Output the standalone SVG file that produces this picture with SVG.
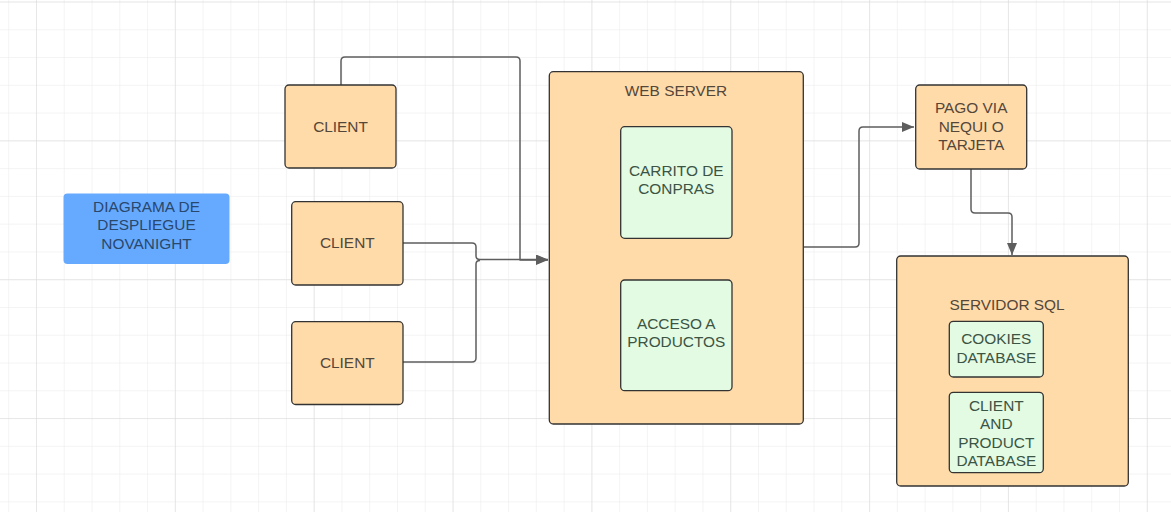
<svg xmlns="http://www.w3.org/2000/svg" width="1171" height="512" viewBox="0 0 1171 512">
<defs>
<pattern id="minor" patternUnits="userSpaceOnUse" x="8.2" y="1.5" width="27.77" height="27.77">
<path d="M0 0V27.77M0 0H27.77" fill="none" stroke="#e9e9e9" stroke-width="1"/>
</pattern>
<pattern id="major" patternUnits="userSpaceOnUse" x="36" y="1.5" width="138.85" height="138.85">
<path d="M0 0V138.85M0 0H138.85" fill="none" stroke="#d9d9d9" stroke-width="1"/>
</pattern>
<marker id="arr" viewBox="0 0 12 10" refX="12" refY="5" markerWidth="12" markerHeight="10" markerUnits="userSpaceOnUse" orient="auto">
<path d="M0 0L12 5L0 10Z" fill="#5e5e5e"/>
</marker>
</defs>
<style>
text{font-family:"Liberation Sans",Arial,sans-serif;font-size:15.4px;text-anchor:middle;dominant-baseline:central}
.o{fill:#ffdba9;stroke:#333;stroke-width:1.3}
.g{fill:#e3fae3;stroke:#333;stroke-width:1.3}
.to{fill:#54473a}
.tg{fill:#3b5444}
.tb{fill:#2a476c}
.c{fill:none;stroke:#5e5e5e;stroke-width:1.5;stroke-linejoin:round}
</style>
<rect width="1171" height="512" fill="#fff"/>
<rect width="1171" height="512" fill="url(#minor)"/>
<rect width="1171" height="512" fill="url(#major)"/>

<g id="connectors">
<path class="c" d="M341 85V61Q341 57 345 57H516Q520 57 520 61V260H548" marker-end="url(#arr)"/>
<path class="c" d="M403 243H472Q476 243 476 247V256Q476 259.5 480 259.5H548" marker-end="url(#arr)"/>
<path class="c" d="M403 362H472Q476 362 476 358V264Q476 260.5 480 260.5"/>
<path class="c" d="M804 247H855Q859 247 859 243V131Q859 127 863 127H914" marker-end="url(#arr)"/>
<path class="c" d="M971 169V209Q971 213 975 213H1008Q1012 213 1012 217V255" marker-end="url(#arr)"/>
</g>

<g id="title">
<rect x="63.5" y="193.5" width="166" height="70.5" rx="4" fill="#66aaff"/>
<text class="tb" x="146.5" y="206">DIAGRAMA DE</text>
<text class="tb" x="146.5" y="224.5">DESPLIEGUE</text>
<text class="tb" x="146.5" y="243">NOVANIGHT</text>
</g>

<g id="client1">
<rect class="o" x="285" y="85" width="111" height="83" rx="4"/>
<text class="to" x="340.5" y="126">CLIENT</text>
</g>
<g id="client2">
<rect class="o" x="291.7" y="201.7" width="111.3" height="83.3" rx="4"/>
<text class="to" x="347.3" y="242.5">CLIENT</text>
</g>
<g id="client3">
<rect class="o" x="291.7" y="321.7" width="111.3" height="82.8" rx="4"/>
<text class="to" x="347.3" y="362.3">CLIENT</text>
</g>

<g id="webserver">
<rect class="o" x="549.3" y="71.7" width="254" height="352.3" rx="4"/>
<text class="to" x="676" y="90.7">WEB SERVER</text>
</g>
<g id="carrito">
<rect class="g" x="620.7" y="126.7" width="111.3" height="111.6" rx="4"/>
<text class="tg" x="676.3" y="170">CARRITO DE</text>
<text class="tg" x="676.3" y="188.3">CONPRAS</text>
</g>
<g id="acceso">
<rect class="g" x="620.7" y="280" width="111.3" height="110.7" rx="4"/>
<text class="tg" x="676.3" y="323.3">ACCESO A</text>
<text class="tg" x="676.3" y="341.7">PRODUCTOS</text>
</g>

<g id="pago">
<rect class="o" x="915.7" y="85" width="111" height="84" rx="4"/>
<text class="to" x="971.2" y="107.5">PAGO VIA</text>
<text class="to" x="971.2" y="126">NEQUI O</text>
<text class="to" x="971.2" y="144.5">TARJETA</text>
</g>

<g id="servidor">
<rect class="o" x="896.7" y="256" width="231.6" height="230" rx="4"/>
<text class="to" x="1007" y="304.3">SERVIDOR SQL</text>
</g>
<g id="cookies">
<rect class="g" x="949.3" y="321.3" width="94" height="55.7" rx="4"/>
<text class="tg" x="996.3" y="338.5">COOKIES</text>
<text class="tg" x="996.3" y="357">DATABASE</text>
</g>
<g id="clientdb">
<rect class="g" x="949.3" y="392.3" width="94" height="80.4" rx="4"/>
<text class="tg" x="996.3" y="405">CLIENT</text>
<text class="tg" x="996.3" y="423.5">AND</text>
<text class="tg" x="996.3" y="442">PRODUCT</text>
<text class="tg" x="996.3" y="460.3">DATABASE</text>
</g>
</svg>
